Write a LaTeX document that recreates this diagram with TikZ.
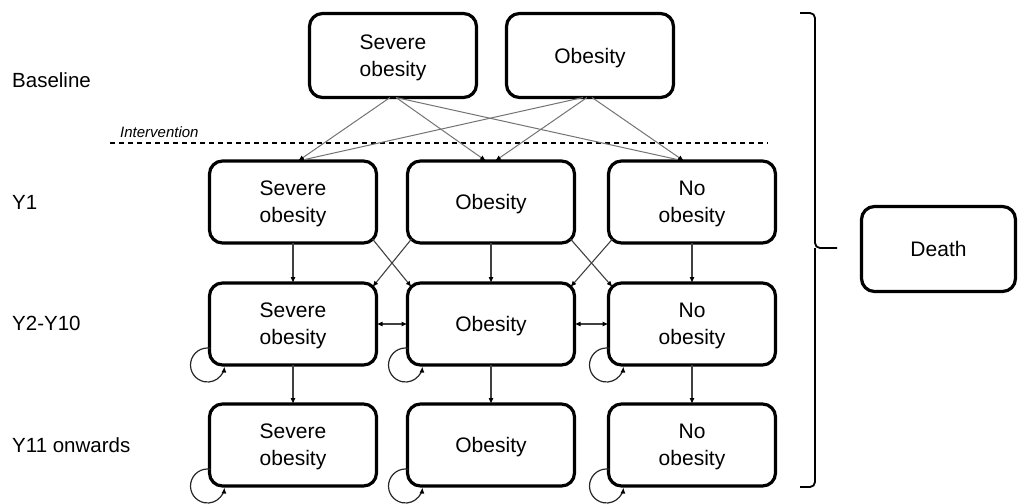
\documentclass[tikz,border=0pt]{standalone}
\usepackage{fontspec}
\setmainfont{Liberation Sans}
\usetikzlibrary{arrows.meta}
\begin{document}
\begin{tikzpicture}[x=1pt,y=1pt,
  state/.style={draw=black, line width=3.2pt, rounded corners=13pt, minimum width=167pt, minimum height=82pt, align=center, inner sep=0pt, outer sep=0pt, text depth=0pt, font=\fontsize{21pt}{27pt}\selectfont},
  lab/.style={anchor=west, inner sep=0pt, font=\fontsize{20.5pt}{26pt}\selectfont},
  tip/.tip={Latex[length=6pt,width=5pt,color=black]},
  conn/.style={line width=1.1pt, draw=black!75, -tip},
  topconn/.style={line width=1pt, draw=black!55, -tip},
  loopconn/.style={line width=1.2pt, draw=black!85, -tip},
  ]
\useasboundingbox (0,0) rectangle (1019,-503);

% row labels
\node[lab] (lb0) at (12,-80) {Baseline};
\node[lab] (lb1) at (12,-202) {Y1};
\node[lab] (lb2) at (12,-323) {Y2-Y10};
\node[lab] (lb3) at (12,-445) {Y11 onwards};

% baseline
\node[state, minimum height=84pt] (s0) at (393,-55.5) {Severe\\obesity};
\node[state, minimum height=84pt] (o0) at (590,-55.5) {Obesity};

% Y1
\node[state] (s1) at (293,-202) {Severe\\obesity};
\node[state] (o1) at (491,-202) {Obesity};
\node[state] (n1) at (692,-202) {No\\obesity};

% Y2-Y10
\node[state] (s2) at (293,-324) {Severe\\obesity};
\node[state] (o2) at (491,-324) {Obesity};
\node[state] (n2) at (692,-324) {No\\obesity};

% Y11 onwards
\node[state] (s3) at (293,-445) {Severe\\obesity};
\node[state] (o3) at (491,-445) {Obesity};
\node[state] (n3) at (692,-445) {No\\obesity};

% death
\node[state, minimum width=154pt, minimum height=85pt] (d) at (938.5,-249) {Death};

% intervention
\node[anchor=west, inner sep=0pt, font=\fontsize{15pt}{18pt}\selectfont\itshape] (iv) at (120,-132) {Intervention};
\coordinate (dl) at (110,-143);
\coordinate (dr) at (768,-143);
\draw[line width=1.3pt, dash pattern=on 5pt off 4pt] (dl) -- (dr);

% baseline -> Y1
\draw[topconn] ([xshift=-3pt]s0.south) -- ([xshift=5pt]s1.north);
\draw[topconn] ([xshift=3pt]s0.south) -- ([xshift=-5pt]o1.north);
\draw[topconn] ([xshift=3pt]s0.south) -- ([xshift=-8pt]n1.north);
\draw[topconn] ([xshift=-7pt]o0.south) -- ([xshift=5pt]s1.north);
\draw[topconn] ([xshift=-3pt]o0.south) -- ([xshift=4pt]o1.north);
\draw[topconn] ([xshift=2pt]o0.south) -- ([xshift=-8pt]n1.north);

% Y1 -> Y2
\draw[conn] (s1) -- (s2);
\draw[conn] (o1) -- (o2);
\draw[conn] (n1) -- (n2);
\draw[conn] ([shift={(-4pt,4pt)}]s1.south east) -- ([shift={(4pt,-4pt)}]o2.north west);
\draw[conn] ([shift={(4pt,4pt)}]o1.south west) -- ([shift={(-4pt,-4pt)}]s2.north east);
\draw[conn] ([shift={(-4pt,4pt)}]o1.south east) -- ([shift={(4pt,-4pt)}]n2.north west);
\draw[conn] ([shift={(4pt,4pt)}]n1.south west) -- ([shift={(-4pt,-4pt)}]o2.north east);

% Y2 horizontal
\draw[conn, tip-tip] (s2) -- (o2);
\draw[conn, tip-tip] (o2) -- (n2);

% Y2 -> Y11
\draw[conn] (s2) -- (s3);
\draw[conn] (o2) -- (o3);
\draw[conn] (n2) -- (n3);

% self loops
\foreach \b in {s2,o2,n2,s3,o3,n3}{
  \draw[loopconn] ([xshift=-2pt]\b.south west) ++(80:17pt) arc[start angle=80, end angle=355, radius=17pt];
}

% bracket
\draw[line width=1.8pt, rounded corners=5pt] (800,-13) -- (815,-13) -- (815,-248) -- (837,-248);
\draw[line width=1.8pt, rounded corners=5pt] (800,-487) -- (815,-487) -- (815,-248);
\end{tikzpicture}
\end{document}
